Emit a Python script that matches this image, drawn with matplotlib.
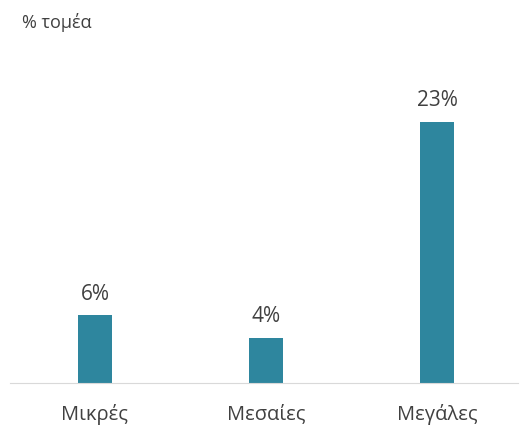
import matplotlib
matplotlib.use('Agg')
import matplotlib.pyplot as plt

categories = ['Μικρές', 'Μεσαίες', 'Μεγάλες']
values = [6, 4, 23]
labels = ['6%', '4%', '23%']

plt.rcParams['font.family'] = ['Open Sans', 'DejaVu Sans']

fig = plt.figure(figsize=(5.21, 4.26), dpi=100)
ax = fig.add_axes([10 / 521, 43 / 426, 508 / 521, 284 / 426])

x = range(len(categories))
bars = ax.bar(x, values, width=0.2, color='#2E869E')
for b, lab in zip(bars, labels):
    ax.text(b.get_x() + b.get_width() / 2, b.get_height() + 0.9, lab,
            ha='center', va='bottom', fontsize=15, color='#404040')

ax.set_xlim(-0.497, 2.474)
ax.set_ylim(0, 25)
ax.set_xticks(list(x))
ax.set_xticklabels(categories, fontsize=14.5, color='#404040')
ax.tick_params(axis='x', length=0, pad=15)
ax.set_yticks([])
for s in ['top', 'right', 'left']:
    ax.spines[s].set_visible(False)
ax.spines['bottom'].set_color('#d9d9d9')

fig.text(22 / 521, 1 - 22 / 426, '% τομέα', fontsize=13, color='#404040',
         ha='left', va='center')

fig.savefig('out.png', dpi=100)
